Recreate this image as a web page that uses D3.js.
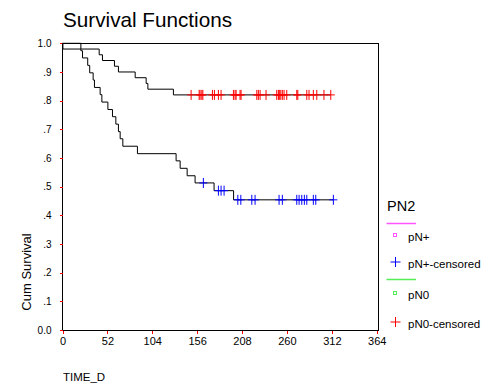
<!DOCTYPE html>
<html>
<head>
<meta charset="utf-8">
<script src="https://cdn.jsdelivr.net/npm/d3@7"></script>
<style>
  html, body { margin: 0; padding: 0; background: #fff; }
  text { font-family: "Liberation Sans", Arial, sans-serif; fill: #000; }
</style>
</head>
<body>
<script>
// Kaplan-Meier survival estimates by nodal status (PN2)
const xTickValues = [0, 52, 104, 156, 208, 260, 312, 364];
const yTickValues = [0, 0.1, 0.2, 0.3, 0.4, 0.5, 0.6, 0.7, 0.8, 0.9, 1.0];
const yTickLabels = ["0.0", ".1", ".2", ".3", ".4", ".5", ".6", ".7", ".8", ".9", "1.0"];

// pN+ : event times (days) and survival after each event
const pnPlusTimes = [0, 21.3, 23.2, 29.2, 31.5, 35.5, 37.0, 43.6, 45.6, 52.6, 57.9, 61.8,
                     64.8, 66.8, 69.9, 86.8, 131.6, 136.3, 144.4, 153.6, 175.6, 198.2];
const pnPlusSurv  = [1.0, 0.974, 0.949, 0.923, 0.897, 0.872, 0.846, 0.821, 0.795, 0.769, 0.744, 0.718,
                     0.692, 0.667, 0.641, 0.615, 0.590, 0.564, 0.538, 0.513, 0.486, 0.454];
const pnPlusCensored = [163.2, 180.6, 183.7, 187.2, 203.1, 206.6, 219.3, 223.1, 250.9, 254.7,
                        271.4, 274.1, 277.2, 280.2, 283.0, 290.6, 293.4, 313.8];

// pN0 : event times (days) and survival after each event
const pn0Times = [0, 0.5, 42.5, 46.3, 60.2, 64.8, 84.2, 96.9, 98.9, 128.5];
const pn0Surv  = [1.0, 0.98, 0.96, 0.94, 0.92, 0.90, 0.88, 0.86, 0.84, 0.82];
const pn0Censored = [149.0, 158.3, 159.4, 161.4, 162.6, 173.7, 176.0, 180.6, 183.7, 198.0,
                     199.9, 201.1, 205.7, 206.9, 225.1, 226.9, 228.9, 235.8, 248.2, 250.1,
                     251.2, 252.9, 254.7, 256.7, 259.8, 271.4, 272.6, 283.0, 285.6, 290.6,
                     294.6, 302.9, 310.8];

const legendTitle = "PN2";
const legendItems = [
  { label: "pN+", kind: "line", color: "#ff55ff" },
  { label: "pN+-censored", kind: "cross", color: "#0000ff" },
  { label: "pN0", kind: "line", color: "#55ee55" },
  { label: "pN0-censored", kind: "cross", color: "#ff0000" }
];

const W = 492, H = 387;
const svg = d3.select("body").append("svg")
  .attr("width", W).attr("height", H)
  .style("display", "block");

const x = d3.scaleLinear().domain([0, 364]).range([62.5, 376.7]);
const y = d3.scaleLinear().domain([0, 1]).range([330, 43.3]);

// Title
svg.append("text")
  .attr("x", 63).attr("y", 27)
  .style("font-size", "20.7px")
  .text("Survival Functions");

// Plot frame
svg.append("rect")
  .attr("x", 62.5).attr("y", 43.5)
  .attr("width", 316).attr("height", 287)
  .attr("fill", "none").attr("stroke", "#000").attr("stroke-width", 1)
  .attr("shape-rendering", "crispEdges");

// Axes
const xAxis = svg.append("g")
  .attr("transform", "translate(0,330.5)")
  .call(d3.axisBottom(x).tickValues(xTickValues).tickSize(3).tickPadding(4).tickFormat(d3.format("d")));
const yAxis = svg.append("g")
  .attr("transform", "translate(62.5,0)")
  .call(d3.axisLeft(y).tickValues(yTickValues).tickSize(3).tickPadding(8)
        .tickFormat((d, i) => yTickLabels[i]));
[xAxis, yAxis].forEach(g => {
  g.select(".domain").remove();
  g.selectAll(".tick line").attr("stroke", "#ff0000").attr("shape-rendering", "crispEdges");
  g.selectAll(".tick text").style("font-family", "'Liberation Sans', Arial, sans-serif").attr("fill", "#000");
});
xAxis.selectAll(".tick text").style("font-size", "11px");
yAxis.selectAll(".tick text").style("font-size", "10px");

// Axis titles
svg.append("text")
  .attr("transform", "translate(31,272) rotate(-90)")
  .attr("text-anchor", "middle")
  .style("font-size", "13px")
  .text("Cum Survival");
svg.append("text")
  .attr("x", 63).attr("y", 381)
  .style("font-size", "11.5px")
  .text("TIME_D");

// Survival step curves
const stepLine = d3.line()
  .x(d => x(d[0])).y(d => y(d[1]))
  .curve(d3.curveStepAfter);

function survivalAt(times, surv, t) {
  const i = d3.bisectRight(times, t) - 1;
  return surv[Math.max(0, i)];
}

function drawGroup(times, surv, censored, crossColor) {
  const pts = times.map((t, i) => [t, surv[i]]);
  const last = d3.max(censored);
  pts.push([last, survivalAt(times, surv, last)]);
  svg.append("path")
    .datum(pts)
    .attr("d", stepLine)
    .attr("fill", "none")
    .attr("stroke", "#000")
    .attr("stroke-width", 1);
  svg.append("g").selectAll("path")
    .data(censored)
    .join("path")
    .attr("transform", t => `translate(${x(t)},${y(survivalAt(times, surv, t))})`)
    .attr("d", "M-4,0H4M0,-5V5")
    .attr("fill", "none")
    .attr("stroke", crossColor)
    .attr("stroke-width", 1);
}

drawGroup(pn0Times, pn0Surv, pn0Censored, "#ff0000");
drawGroup(pnPlusTimes, pnPlusSurv, pnPlusCensored, "#0000ff");

// Legend
const lg = svg.append("g");
lg.append("text").attr("x", 387).attr("y", 211)
  .style("font-size", "14.5px").text(legendTitle);

const rowY = [235, 262, 293, 322];
const lineY = [223, 279];
let li = 0;
legendItems.forEach((item, i) => {
  const cy = rowY[i];
  if (item.kind === "line") {
    lg.append("line")
      .attr("x1", 386.5).attr("x2", 416).attr("y1", lineY[li] + 0.5).attr("y2", lineY[li] + 0.5)
      .attr("stroke", item.color).attr("stroke-width", 1.5);
    li++;
    lg.append("rect")
      .attr("x", 393.5).attr("y", cy - 1.5).attr("width", 3).attr("height", 3)
      .attr("fill", "none").attr("stroke", item.color).attr("stroke-width", 1);
  } else {
    lg.append("path")
      .attr("transform", `translate(395.5,${cy})`)
      .attr("d", "M-5,0H5M0,-5V5")
      .attr("fill", "none").attr("stroke", item.color).attr("stroke-width", 1);
  }
  lg.append("text").attr("x", 408).attr("y", cy + 5.5)
    .style("font-size", "11.5px").text(item.label);
});
</script>
</body>
</html>
